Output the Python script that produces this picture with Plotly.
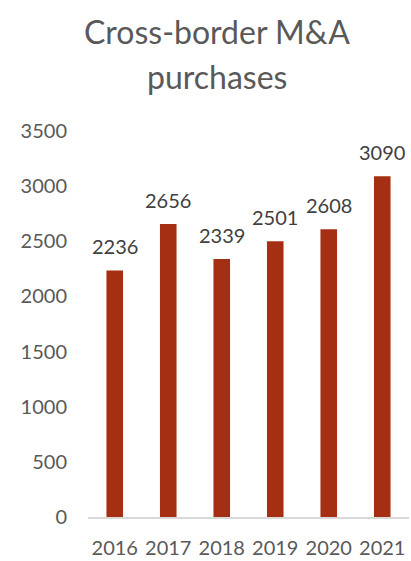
import plotly.graph_objects as go

years = ["2016", "2017", "2018", "2019", "2020", "2021"]
purchases = [2236, 2656, 2339, 2501, 2608, 3090]
title_lines = ["Cross-border M&A", "purchases"]

BAR_COLOR = "#A52F13"
FONT = "Lato"

fig = go.Figure()
fig.add_trace(go.Bar(
    x=years,
    y=purchases,
    marker=dict(color=BAR_COLOR, line=dict(width=0)),
    width=0.31,
    hoverinfo="x+y",
))

# value labels above each bar (category index on the x axis)
for i, v in enumerate(purchases):
    fig.add_annotation(
        x=i, y=v, xref="x", yref="y",
        text=str(v), showarrow=False,
        yanchor="bottom", yshift=10,
        font=dict(family=FONT, size=20, color="#404040"),
    )

# two-line chart title
for line, ypos in zip(title_lines, [1.2587, 1.1408]):
    fig.add_annotation(
        x=0.402, y=ypos, xref="paper", yref="paper",
        text=line, showarrow=False,
        xanchor="center", yanchor="middle",
        font=dict(family=FONT, size=32, color="#595959"),
    )

fig.update_layout(
    width=411, height=561,
    margin=dict(l=88, r=2, t=131, b=40),
    paper_bgcolor="white", plot_bgcolor="white",
    showlegend=False,
    font=dict(family=FONT, size=20, color="#595959"),
    xaxis=dict(
        type="category",
        categoryorder="array", categoryarray=years,
        range=[-0.5, len(years) - 0.5],
        showline=True, linecolor="#D9D9D9", linewidth=1.5,
        showgrid=False, ticks="", ticklabelstandoff=12,
        tickfont=dict(family=FONT, size=20, color="#595959"),
    ),
    yaxis=dict(
        range=[0, 3500], dtick=500, showgrid=False, zeroline=False,
        showline=False, ticks="", ticklabelstandoff=20,
        tickfont=dict(family=FONT, size=20, color="#595959"),
    ),
)

fig.write_html("out.html")
